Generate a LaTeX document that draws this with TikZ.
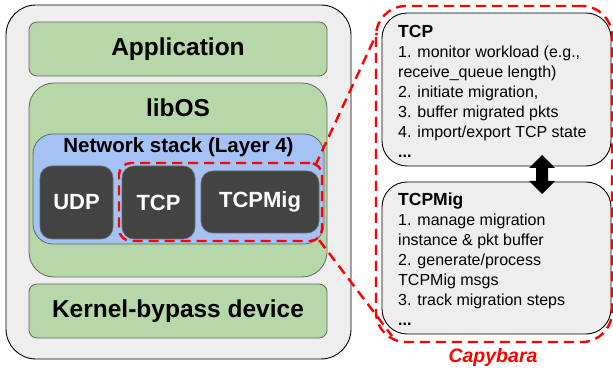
\documentclass[tikz,border=0pt]{standalone}
\usepackage{fontspec}
\setmainfont{Liberation Sans}
\definecolor{boxgray}{HTML}{EEEEEE}
\definecolor{gfill}{HTML}{B6D7A8}
\definecolor{bfill}{HTML}{A4C2F4}
\definecolor{dfill}{HTML}{434343}
\definecolor{edge}{HTML}{666666}
\definecolor{capred}{HTML}{FF0000}
\tikzset{
  outerbox/.style={draw=black, line width=0.9pt, fill=boxgray, rounded corners=30pt, inner sep=0pt},
  greenbox/.style={draw=edge, line width=0.8pt, fill=gfill, inner sep=0pt, font=\bfseries\fontsize{24.5}{27}\selectfont},
  bluebox/.style={draw=edge, line width=0.8pt, fill=bfill, rounded corners=20pt, inner sep=0pt},
  darkbox/.style={draw=edge, line width=0.6pt, fill=dfill, rounded corners=12pt, inner sep=0pt, text=white, font=\bfseries\fontsize{22}{25}\selectfont},
  reddash/.style={draw=capred, line width=2.4pt, dash pattern=on 10pt off 6pt},
  infobox/.style={draw=black, line width=0.9pt, fill=boxgray, rounded corners=25pt, inner sep=0pt},
  infotext/.style={anchor=north west, align=left, inner sep=0pt, font=\fontsize{16}{20}\selectfont},
}
\newcommand{\infotitle}[1]{{\bfseries\fontsize{17.5}{20}\selectfont #1}}
\begin{document}
\begin{tikzpicture}[x=1pt, y=-1pt]
\useasboundingbox (0,0) rectangle (613,371);
% left stack
\node[outerbox, minimum width=345pt, minimum height=354pt] (outer) at (178.5,182) {};
\node[greenbox, rounded corners=8pt, minimum width=298pt, minimum height=54pt] (app) at (178,49) {Application};
\node[greenbox, rounded corners=25pt, minimum width=298pt, minimum height=194pt] (libos) at (178,180) {};
\node[font=\bfseries\fontsize{24.5}{27}\selectfont, inner sep=0pt] (liboslabel) at (178,108) {libOS};
\node[bluebox, minimum width=291pt, minimum height=110pt] (net) at (178.5,189) {};
\node[font=\bfseries\fontsize{20.5}{23}\selectfont, inner sep=0pt] (netlabel) at (178.5,147) {Network stack (Layer 4)};
\node[darkbox, minimum width=73pt, minimum height=73pt] (udp) at (76.5,202.5) {UDP};
\node[darkbox, minimum width=73pt, minimum height=73pt] (tcp) at (158.5,202.5) {TCP};
\node[darkbox, minimum width=118pt, minimum height=62pt] (tcpmig) at (260,202) {TCPMig};
\node[reddash, rounded corners=12pt, minimum width=203pt, minimum height=78pt, inner sep=0pt] (sred) at (220.5,202) {};
\node[greenbox, rounded corners=8pt, minimum width=298pt, minimum height=54pt] (kbd) at (178,311) {Kernel-bypass device};
% right side
\node[infobox, minimum width=229pt, minimum height=153pt] (tcpinfo) at (496.5,89.5) {};
\node[infobox, minimum width=229pt, minimum height=152pt] (miginfo) at (496.5,258) {};
\node[infotext] (tcptext) at (398,25) {\infotitle{TCP}\\1. monitor workload (e.g.,\\receive\_queue length)\\2. initiate migration,\\3. buffer migrated pkts\\4. import/export TCP state\\\textbf{...}};
\node[infotext] (migtext) at (398,193) {\infotitle{TCPMig}\\1. manage migration\\instance \& pkt buffer\\2. generate/process\\TCPMig msgs\\3. track migration steps\\\textbf{...}};
\node[reddash, rounded corners=30pt, minimum width=236pt, minimum height=336pt, inner sep=0pt] (bred) at (494,174) {};
\node[text=capred, font=\bfseries\itshape\fontsize{19.5}{22}\selectfont, inner sep=0pt] (capy) at (493,357) {Capybara};
% callout connectors
\coordinate (ctop) at (377,33);
\coordinate (cbot) at (392,336);
\draw[reddash] (sred.north east) ++(-8,4) -- (ctop);
\draw[reddash] (sred.south east) ++(-4,-2) -- (cbot);
% double arrow
\coordinate (da) at (542,174.5);
\fill[black] (542,155) -- (555,168) -- (548,168) -- (548,181) -- (555,181) -- (542,194) -- (529,181) -- (536,181) -- (536,168) -- (529,168) -- cycle;
\end{tikzpicture}
\end{document}
